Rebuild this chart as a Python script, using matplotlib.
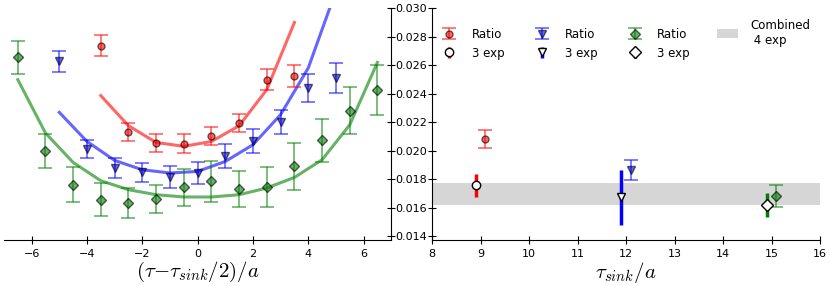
############################## IMPORTS ##############################
import numpy as np
import matplotlib
matplotlib.use("Agg")
import matplotlib.pyplot as plt
################################ FIN ################################

############################# DATA SETUP #############################
## Left panel: ratio data and fit curves vs (tau - tsink/2)/a
redX = [-3.5, -2.5, -1.5, -0.5, 0.5, 1.5, 2.5, 3.5]
redY = [0.02736, 0.02131, 0.02054, 0.02049, 0.02105, 0.02192, 0.02498, 0.02524]
redErr = [0.00072, 0.00062, 0.00064, 0.00066, 0.00064, 0.00063, 0.00075, 0.00080]
redFit = [0.02386, 0.02175, 0.02058, 0.02031, 0.02065, 0.02175, 0.02428, 0.02899]

blueX = [-5, -4, -3, -2, -1, 0, 1, 2, 3, 4, 5]
blueY = [0.02626, 0.02012, 0.01879, 0.01848, 0.01816, 0.01844, 0.01965, 0.02066, 0.02201, 0.02440, 0.02510]
blueErr = [0.00074, 0.00066, 0.00070, 0.00068, 0.00078, 0.00075, 0.00085, 0.00085, 0.00086, 0.00100, 0.00108]
blueFit = [0.02269, 0.02065, 0.01932, 0.01867, 0.01844, 0.01855, 0.01925, 0.02042, 0.02253, 0.02580, 0.03120]

greenX = [-6.5, -5.5, -4.5, -3.5, -2.5, -1.5, -0.5, 0.5, 1.5, 2.5, 3.5, 4.5, 5.5, 6.5]
greenY = [0.02654, 0.02000, 0.01762, 0.01657, 0.01634, 0.01662, 0.01743,
          0.01785, 0.01732, 0.01746, 0.01890, 0.02073, 0.02281, 0.02426]
greenErr = [0.00118, 0.00120, 0.00123, 0.00117, 0.00106, 0.00098, 0.00129,
            0.00142, 0.00129, 0.00138, 0.00163, 0.00150, 0.00165, 0.00173]
greenFit = [0.02498, 0.02124, 0.01918, 0.01790, 0.01727, 0.01692, 0.01676,
            0.01676, 0.01692, 0.01739, 0.01813, 0.01937, 0.02182, 0.02619]

## Right panel: results vs tsink/a
ratioT = [9.1, 12.1, 15.1]
ratioVal = [0.02082, 0.01867, 0.01685]
ratioErr = [0.00066, 0.00070, 0.00078]

expT = [8.9, 11.9, 14.9]
expVal = [0.01757, 0.01675, 0.01622]
expErr = [0.00080, 0.00192, 0.00084]

combinedVal = 0.016955
combinedErr = 0.000755

colors = ["r", "b", "g"]
markers = ["o", "v", "D"]
msizes = [5, 5.5, 5.5]
################################ FIN ################################

############################# PLOTTING #############################
plt.rcParams["mathtext.fontset"] = "cm"
plt.rcParams["font.size"] = 8

fig = plt.figure(figsize=(8.3, 2.86), dpi=100)
axL = fig.add_axes([0.0048, 0.161, 0.4666, 0.811])
axR = fig.add_axes([0.5205, 0.161, 0.4675, 0.811])

yLow, yHigh = 0.01375, 0.0300
yTicks = np.arange(0.014, 0.0301, 0.002)

## Left panel
sets = [(redX, redY, redErr, redFit), (blueX, blueY, blueErr, blueFit),
        (greenX, greenY, greenErr, greenFit)]
for (x, y, e, fit), c, m, s in zip(sets, colors, markers, msizes):
    axL.plot(x, fit, color=c, alpha=0.6, lw=2.2, zorder=2)
    axL.errorbar(x, y, yerr=e, fmt=m, color=c, mec="k", ms=s, alpha=0.6,
                 capsize=5, elinewidth=1.2, capthick=1.2, zorder=3)

axL.set_xlim(-7, 7)
axL.set_ylim(yLow, yHigh)
axL.spines["left"].set_visible(False)
axL.spines["top"].set_visible(False)
axL.yaxis.tick_right()
axL.set_yticks(yTicks)
axL.tick_params(axis="y", direction="inout", length=6, labelright=False)
axL.tick_params(axis="x", direction="inout", length=6, top=False)
axL.set_xticks([-6, -4, -2, 0, 2, 4, 6])
axL.set_xticklabels(["\u22126", "\u22124", "\u22122", "0", "2", "4", "6"])
axL.set_xlabel(r"$(\tau{-}\tau_{sink}/2)/a$", fontsize=15, labelpad=1)

## Right panel
axR.axhspan(combinedVal - combinedErr, combinedVal + combinedErr, color="#d6d6d6",
            lw=0, zorder=1, label="Combined\n 4 exp")

handles = []
for i in range(3):
    h1 = axR.errorbar(ratioT[i], ratioVal[i], yerr=ratioErr[i], fmt=markers[i],
                      color=colors[i], mec="k", ms=msizes[i], alpha=0.6,
                      capsize=5, elinewidth=1.2, capthick=1.2, zorder=3, label="Ratio")
    h2 = axR.errorbar(expT[i], expVal[i], yerr=expErr[i], fmt=markers[i],
                      color=colors[i], mfc="white", mec="k", ms=6 if i < 2 else 6.5,
                      elinewidth=2.5, capsize=0, zorder=4, label="3 exp")
    handles += [h1, h2]

band = axR.patches[0]
handles.append(band)

axR.set_xlim(8, 16)
axR.set_ylim(yLow, yHigh)
axR.spines["right"].set_visible(False)
axR.spines["top"].set_visible(False)
axR.set_yticks(yTicks)
axR.set_yticklabels(["%.3f" % v for v in yTicks])
axR.tick_params(axis="y", direction="inout", length=6, right=False, pad=0.5)
axR.tick_params(axis="x", direction="inout", length=6, top=False)
axR.set_xticks(range(8, 17))
axR.set_xlabel(r"$\tau_{sink}/a$", fontsize=15, labelpad=1)

axR.legend(handles=handles, labels=[h.get_label() for h in handles], ncol=4,
           frameon=False, fontsize=8.5, loc="upper right", bbox_to_anchor=(1.002, 1.0),
           handlelength=1.8, handletextpad=1.0, columnspacing=2.3, labelspacing=0.5,
           numpoints=1)

plt.savefig("out.png", dpi=100)
################################ FIN ################################
